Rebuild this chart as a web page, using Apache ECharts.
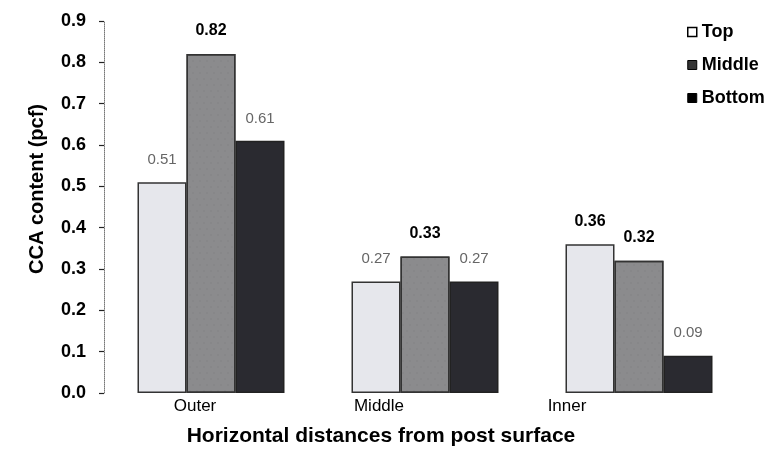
<!DOCTYPE html>
<html>
<head>
<meta charset="utf-8">
<script src="https://cdn.jsdelivr.net/npm/echarts@6/dist/echarts.min.js"></script>
<style>html,body{margin:0;padding:0;background:#fff}#c{width:779px;height:470px}</style>
</head>
<body>
<div id="c"></div>
<script>
const categories = ['Outer', 'Middle', 'Inner'];
const seriesNames = ['Top', 'Middle', 'Bottom'];
const topValues = [0.51, 0.27, 0.36];
const middleValues = [0.82, 0.33, 0.32];
const bottomValues = [0.61, 0.27, 0.09];
const yTicks = ['0.0','0.1','0.2','0.3','0.4','0.5','0.6','0.7','0.8','0.9'];

const FONT = 'Liberation Sans, Arial, sans-serif';
const boldLabel = {color:'#000', fontWeight:'bold', fontSize:16, fontFamily:FONT};
const grayLabel = {color:'#666', fontWeight:'normal', fontSize:15, fontFamily:FONT};

function mk(values, boldIdx) {
  return values.map((v,i)=>({value:v, label: Object.assign({show:true, position:'top', distance:15, formatter: p=>p.value.toFixed(2)}, boldIdx.includes(i)?boldLabel:grayLabel)}));
}

const chart = echarts.init(document.getElementById('c'));
chart.setOption({
  animation:false,
  backgroundColor:'#fff',
  grid:{left:104, right:33, top:21, bottom:77},
  legend:{
    orient:'vertical', left:682, top:18, itemWidth:9, itemHeight:9, itemGap:15, icon:'rect',
    textStyle:{fontFamily:FONT, fontSize:18, fontWeight:'bold', color:'#000'},
    data:[
      {name:'Top', itemStyle:{color:'#fff', borderColor:'#000', borderWidth:1.5, decal:'none'}},
      {name:'Middle', itemStyle:{color:'#333', borderColor:'#000', borderWidth:1, decal:'none'}},
      {name:'Bottom', itemStyle:{color:'#000', borderColor:'#000', borderWidth:1, decal:'none'}}
    ]
  },
  xAxis:{
    type:'category', data:categories,
    axisLine:{show:false}, axisTick:{show:false},
    axisLabel:{margin:5, fontFamily:FONT, fontSize:17, color:'#000',
      formatter:(v,i)=>'{c'+i+'|'+v+'}',
      rich:{c0:{padding:[0,32,0,0], fontSize:17, fontFamily:FONT}, c1:{padding:[0,92,0,0], fontSize:17, fontFamily:FONT}, c2:{padding:[0,144,0,0], fontSize:17, fontFamily:FONT}}},
    name:'Horizontal distances from post surface', nameLocation:'middle', nameGap:33,
    nameTextStyle:{fontFamily:FONT, fontSize:21, fontWeight:'bold', color:'#000', padding:[0,88,0,0]}
  },
  yAxis:{
    type:'value', min:0, max:0.9, interval:0.1,
    splitLine:{show:false},
    axisLine:{show:true, lineStyle:{color:'#777', type:'dotted', width:1}},
    axisTick:{show:true, length:5, lineStyle:{color:'#222', width:1.2}},
    axisLabel:{margin:18, fontFamily:FONT, fontSize:18, fontWeight:'bold', color:'#000',
      formatter:v=>yTicks[Math.round(v*10)]},
    name:'CCA content (pcf)', nameLocation:'middle', nameGap:57, nameRotate:90,
    nameTextStyle:{fontFamily:FONT, fontSize:20, fontWeight:'bold', color:'#000', padding:[0,0,0,36]}
  },
  series:[
    {name:seriesNames[0], type:'bar', barWidth:49, barGap:'0%', data:mk(topValues,[2]),
      itemStyle:{color:'#e6e7ec', borderColor:'#333', borderWidth:1.5}},
    {name:seriesNames[1], type:'bar', barWidth:49, barGap:'0%', data:mk(middleValues,[0,1,2]),
      itemStyle:{color:'#8b8b8d', borderColor:'#333', borderWidth:1.5,
        decal:{symbol:'rect', symbolSize:0.5, color:'rgba(0,0,0,0.12)', dashArrayX:[[2,5],[0,3,2,2]], dashArrayY:[2,4], rotation:0}}},
    {name:seriesNames[2], type:'bar', barWidth:49, barGap:'0%', data:mk(bottomValues,[]),
      itemStyle:{color:'#2a2a30', borderColor:'#222', borderWidth:1.5}}
  ]
});
</script>
</body>
</html>
